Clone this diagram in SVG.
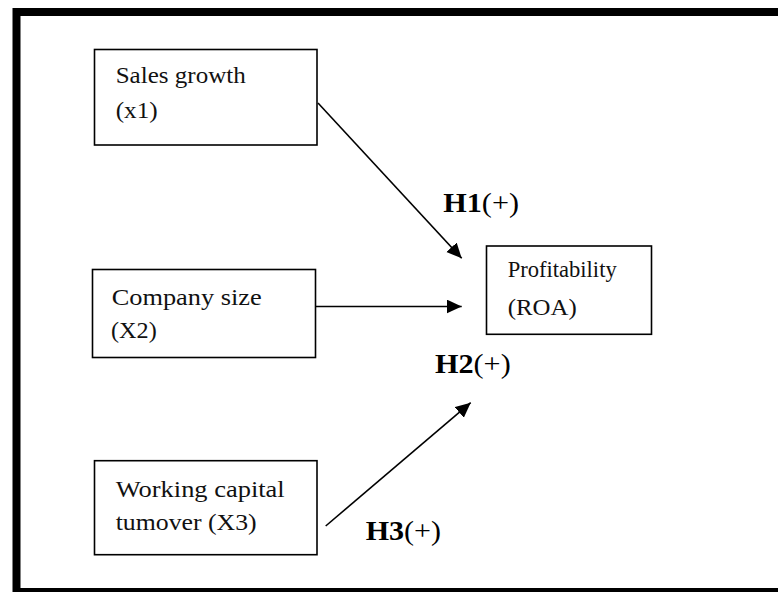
<svg xmlns="http://www.w3.org/2000/svg" width="778" height="592" viewBox="0 0 778 592">
<style>
.box{fill:#fff;stroke:#000;stroke-width:1.6}
.t{font-family:"Liberation Serif","Times New Roman",serif;font-size:24px;fill:#111}
.h{font-family:"Liberation Serif","Times New Roman",serif;font-size:28px;fill:#000}
.b{font-weight:bold}
.c{stroke:#000;stroke-width:1.6;fill:none;marker-end:url(#ah)}
</style>
<defs>
<marker id="ah" markerUnits="userSpaceOnUse" markerWidth="16" markerHeight="16" refX="15" refY="7" orient="auto">
<path d="M0,0 L15,7 L0,14 Z" fill="#000"/>
</marker>
</defs>
<rect x="0" y="0" width="778" height="592" fill="#fff"/>
<rect x="16.5" y="12" width="775" height="580" fill="none" stroke="#000" stroke-width="8"/>
<g id="connectors">
<line class="c" x1="318" y1="103" x2="461.7" y2="258.3"/>
<line class="c" x1="316" y1="306.5" x2="461.7" y2="306.5"/>
<line class="c" x1="325.7" y1="526" x2="470.7" y2="402.7"/>
</g>
<g id="sales">
<rect class="box" x="94.5" y="49.5" width="222.5" height="95.5"/>
<text class="t" x="115.7" y="83" textLength="130" lengthAdjust="spacingAndGlyphs">Sales growth</text>
<text class="t" x="115.7" y="118" textLength="42" lengthAdjust="spacingAndGlyphs">(x1)</text>
</g>
<g id="size">
<rect class="box" x="92.5" y="269.5" width="223" height="88"/>
<text class="t" x="111.7" y="305" textLength="150" lengthAdjust="spacingAndGlyphs">Company size</text>
<text class="t" x="111" y="338" textLength="45.7" lengthAdjust="spacingAndGlyphs">(X2)</text>
</g>
<g id="wct">
<rect class="box" x="94.5" y="460.7" width="222.5" height="94"/>
<text class="t" x="115.7" y="496.7" textLength="169" lengthAdjust="spacingAndGlyphs">Working capital</text>
<text class="t" x="115.7" y="530" textLength="141" lengthAdjust="spacingAndGlyphs">tumover (X3)</text>
</g>
<g id="roa">
<rect class="box" x="486.5" y="246" width="165" height="88.3"/>
<text class="t" x="507.7" y="276.7" textLength="109" lengthAdjust="spacingAndGlyphs">Profitability</text>
<text class="t" x="507.7" y="315" textLength="69" lengthAdjust="spacingAndGlyphs">(ROA)</text>
</g>
<g id="labels">
<text class="h" x="443.3" y="211.7" textLength="75.7" lengthAdjust="spacingAndGlyphs"><tspan class="b">H1</tspan>(+)</text>
<text class="h" x="435" y="373" textLength="75.7" lengthAdjust="spacingAndGlyphs"><tspan class="b">H2</tspan>(+)</text>
<text class="h" x="365.7" y="540" textLength="75.3" lengthAdjust="spacingAndGlyphs"><tspan class="b">H3</tspan>(+)</text>
</g>
</svg>
